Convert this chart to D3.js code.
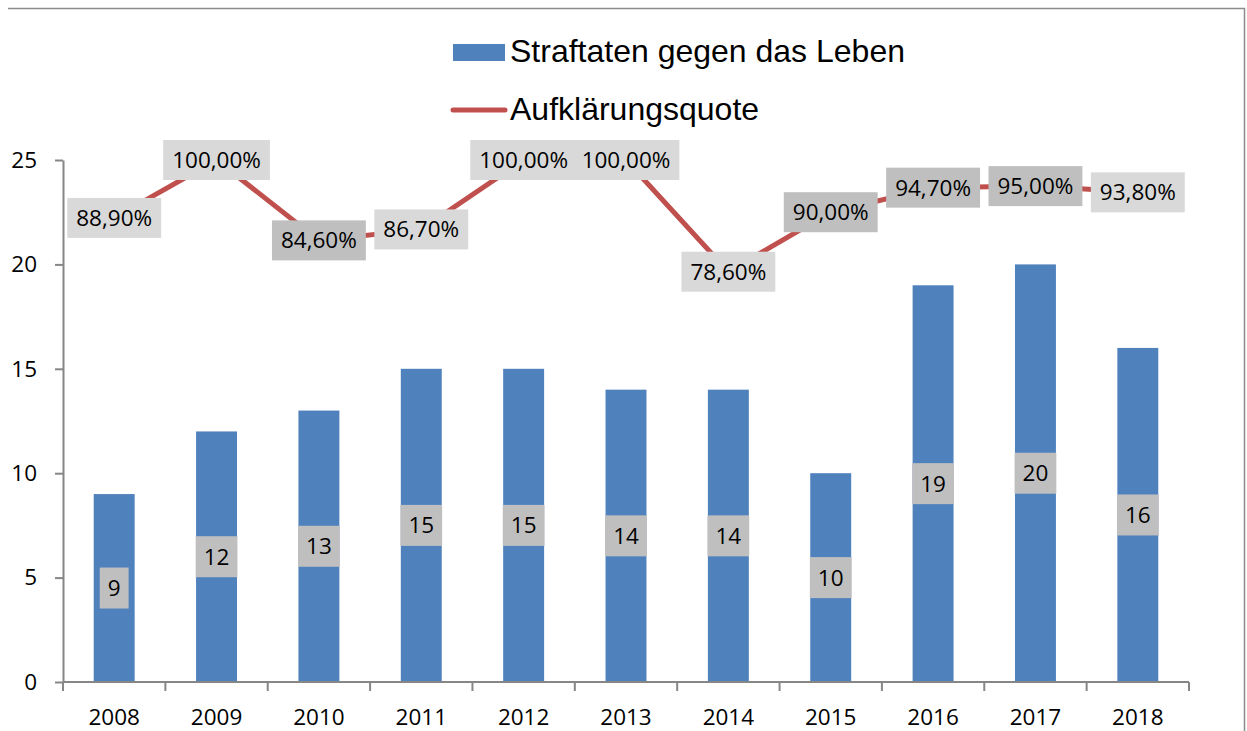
<!DOCTYPE html>
<html>
<head>
<meta charset="utf-8">
<script src="https://cdn.jsdelivr.net/npm/d3@7"></script>
<style>
  body { margin: 0; background: #fff; }
  svg { display: block; }
</style>
</head>
<body>
<div id="chart"></div>
<script>
const years = ["2008", "2009", "2010", "2011", "2012", "2013", "2014", "2015", "2016", "2017", "2018"];
const straftaten = [9, 12, 13, 15, 15, 14, 14, 10, 19, 20, 16];
const quote = [0.889, 1.0, 0.846, 0.867, 1.0, 1.0, 0.786, 0.90, 0.947, 0.95, 0.938];
const yTicks = [0, 5, 10, 15, 20, 25];
const seriesNames = ["Straftaten gegen das Leben", "Aufklärungsquote"];

// label box shades as in the reference (light / darker gray)
const quoteBoxFill = ["#d9d9d9", "#d9d9d9", "#bfbfbf", "#d9d9d9", "#d9d9d9", "#d9d9d9",
                      "#d9d9d9", "#bfbfbf", "#bfbfbf", "#bfbfbf", "#d9d9d9"];

const W = 1247, H = 731;
const plotLeft = 63, plotRight = 1189, plotTop = 160, plotBottom = 682;
const labelFont = "'Open Sans', sans-serif";
const labelSize = 22.5;

const de = d3.formatLocale({decimal: ",", thousands: ".", grouping: [3], currency: ["", "€"]});
const pct = de.format(".2%");

const svg = d3.select("#chart").append("svg")
  .attr("width", W)
  .attr("height", H);

// outer frame (top + right edge only visible)
svg.append("path")
  .attr("d", `M8,8.5H1244.5V${H}`)
  .attr("fill", "none")
  .attr("stroke", "#8c8c8c")
  .attr("stroke-width", 1.5);

const x = d3.scaleBand()
  .domain(years)
  .range([plotLeft, plotRight])
  .paddingInner(0.6)
  .paddingOuter(0.3);

const y = d3.scaleLinear()
  .domain([0, 25])
  .range([plotBottom, plotTop]);

const y2 = d3.scaleLinear()
  .domain([0, 1])
  .range([plotBottom, plotTop]);

// bars
svg.append("g")
  .selectAll("rect")
  .data(straftaten)
  .enter()
  .append("rect")
  .attr("x", (d, i) => x(years[i]))
  .attr("y", d => y(d))
  .attr("width", x.bandwidth())
  .attr("height", d => y(0) - y(d))
  .attr("fill", "#4f81bd");

// y axis
const yAxis = svg.append("g")
  .attr("transform", `translate(${plotLeft},0)`)
  .call(d3.axisLeft(y).tickValues(yTicks).tickSize(8).tickPadding(18).tickSizeOuter(0));
yAxis.select(".domain").attr("stroke", "#868686").attr("stroke-width", 2);
yAxis.selectAll(".tick line").attr("stroke", "#868686").attr("stroke-width", 2);
yAxis.selectAll(".tick text")
  .attr("font-family", labelFont)
  .attr("font-size", labelSize)
  .attr("fill", "#000");

// x axis: baseline, ticks between categories, labels centred
const xAxis = svg.append("g");
xAxis.append("line")
  .attr("x1", plotLeft).attr("x2", plotRight)
  .attr("y1", plotBottom).attr("y2", plotBottom)
  .attr("stroke", "#868686").attr("stroke-width", 2);
const step = x.step();
xAxis.selectAll(".xt")
  .data(d3.range(years.length + 1))
  .enter()
  .append("line")
  .attr("class", "xt")
  .attr("x1", i => x(years[0]) - step * 0.3 + i * step)
  .attr("x2", i => x(years[0]) - step * 0.3 + i * step)
  .attr("y1", plotBottom).attr("y2", plotBottom + 9)
  .attr("stroke", "#868686").attr("stroke-width", 2);
xAxis.selectAll("text")
  .data(years)
  .enter()
  .append("text")
  .attr("x", d => x(d) + x.bandwidth() / 2)
  .attr("y", plotBottom + 43)
  .attr("text-anchor", "middle")
  .attr("font-family", labelFont)
  .attr("font-size", labelSize)
  .text(d => d);

// line
const line = d3.line()
  .x((d, i) => x(years[i]) + x.bandwidth() / 2)
  .y(d => y2(d));

svg.append("path")
  .datum(quote)
  .attr("d", line)
  .attr("fill", "none")
  .attr("stroke", "#c0504d")
  .attr("stroke-width", 5);

function addLabel(g, cx, cy, txt, fill, padX, h) {
  const t = g.append("text")
    .attr("x", cx)
    .attr("y", cy + 8)
    .attr("text-anchor", "middle")
    .attr("font-family", labelFont)
    .attr("font-size", labelSize)
    .attr("fill", "#000")
    .text(txt);
  const w = t.node().getComputedTextLength() + padX * 2;
  g.insert("rect", () => t.node())
    .attr("x", cx - w / 2)
    .attr("y", cy - h / 2)
    .attr("width", w)
    .attr("height", h)
    .attr("fill", fill);
}

// bar labels
const barLabels = svg.append("g");
straftaten.forEach((v, i) => {
  addLabel(barLabels, x(years[i]) + x.bandwidth() / 2, y(v / 2), String(v), "#bfbfbf", 8, 41);
});

// line labels
const lineLabels = svg.append("g");
quote.forEach((v, i) => {
  addLabel(lineLabels, x(years[i]) + x.bandwidth() / 2, y2(v), pct(v), quoteBoxFill[i], 9, 40);
});

// legend
const legend = svg.append("g");
legend.append("rect")
  .attr("x", 453).attr("y", 44)
  .attr("width", 52).attr("height", 17)
  .attr("fill", "#4f81bd");
legend.append("line")
  .attr("x1", 453).attr("x2", 505)
  .attr("y1", 110).attr("y2", 110)
  .attr("stroke", "#c0504d")
  .attr("stroke-width", 5)
  .attr("stroke-linecap", "round");
legend.selectAll("text")
  .data(seriesNames)
  .enter()
  .append("text")
  .attr("x", 510)
  .attr("y", (d, i) => 62 + i * 58)
  .attr("font-family", "'Liberation Sans', Arial, sans-serif")
  .attr("font-size", 32)
  .attr("fill", "#000")
  .text(d => d);
</script>
</body>
</html>
